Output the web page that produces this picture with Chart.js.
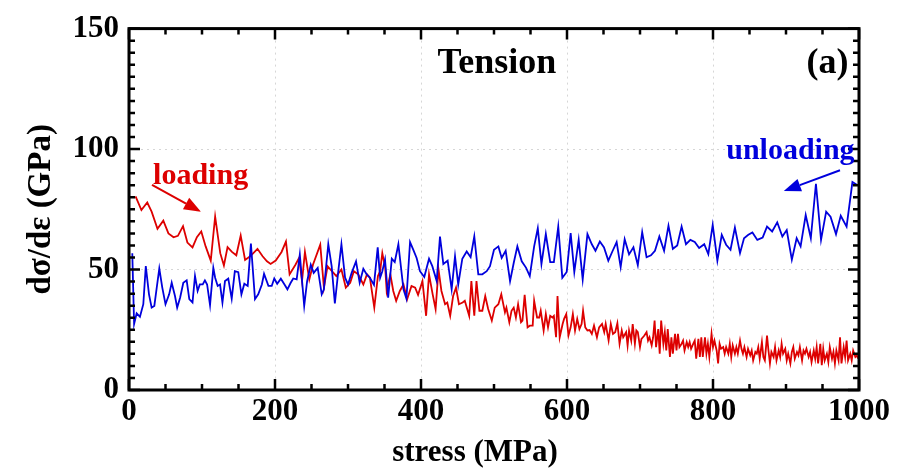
<!DOCTYPE html>
<html lang="en">
<head>
  <meta charset="UTF-8">
  <title>Tension (a)</title>
  <script src="https://cdn.jsdelivr.net/npm/chart.js"></script>
  <style>
    html, body { margin: 0; padding: 0; background: #fff; }
  </style>
</head>
<body>
  <canvas id="tensionChart" width="898" height="470"></canvas>

  <script>
    // loading curve (red)
    const loadX = [9, 17, 25, 31, 39, 47, 54, 61, 67, 74, 80, 87, 93, 99, 105, 112, 118, 125, 130, 135,
      141, 147, 153, 159, 166, 176, 183, 189, 194, 201, 209, 215, 220, 228, 233, 237, 241, 247, 252, 262,
      267, 272, 278, 284, 291, 297, 303, 308, 314, 321, 326, 330, 336, 341, 344, 347, 351, 353, 358, 362,
      366, 371, 376, 381, 387, 392, 396, 402, 407, 411, 416, 420, 424, 428, 433, 436, 440, 444, 448, 452,
      457, 460, 466, 469, 473, 476, 480, 484, 488, 492, 497, 501, 506, 510, 515, 517, 521, 524, 527, 530,
      533, 537, 539, 542, 546, 549, 553, 555, 559, 562, 564, 568, 571, 574, 577, 580, 582, 585, 587, 590,
      594, 596, 599, 602, 605, 608, 611, 614, 617, 620, 622, 625, 628, 631, 634, 637, 641, 644, 648, 651,
      653, 657, 660, 663, 666, 669, 672, 675, 677, 681, 683, 685, 688, 690, 693, 695, 697, 700, 702, 704,
      706, 709, 711, 713, 716, 718, 720, 722, 725, 727, 729, 732, 734, 736, 738, 741, 743, 745, 748, 750,
      752, 754, 757, 759, 761, 764, 766, 768, 770, 773, 775, 777, 780, 782, 784, 786, 789, 791, 793, 795,
      798, 800, 802, 805, 807, 809, 811, 814, 816, 818, 821, 823, 825, 827, 830, 832, 834, 837, 839, 841,
      843, 846, 848, 851, 853, 855, 858, 860, 862, 864, 867, 869, 871, 874, 876, 878, 880, 883, 885, 887,
      890, 892, 894, 896, 899, 901, 903, 906, 908, 910, 912, 915, 917, 919, 922, 924, 926, 928, 931, 933,
      935, 938, 940, 942, 944, 947, 949, 951, 953, 956, 958, 960, 963, 965, 967, 969, 972, 974, 976, 979,
      981, 983, 985, 988, 990, 992, 995, 997, 999];
    const loadY = [80.4, 74.7, 77.8, 74, 66.9, 70.3, 65, 63.4, 64, 68, 61.2, 59.2, 63.4, 65.8, 59.6, 53.7, 72, 56.8, 51.7, 59.3,
      57.3, 55.9, 64.1, 54, 55.5, 58.6, 55.5, 53.4, 52.3, 53.7, 57.3, 61.6, 48, 52, 54.8, 45.2, 57.3, 45.9, 52, 60.3,
      42.5, 51.4, 49.3, 47.3, 50, 42.5, 44.5, 49.3, 48, 43.8, 48, 46.6, 34.2, 47.3, 49.3, 56.8, 50.7, 41.1, 48, 41.1,
      37, 41.1, 43.8, 37.7, 43.2, 42.5, 39.5, 45.2, 30.8, 48, 39.7, 33.6, 50, 41.1, 35.6, 36.3, 30.8, 39, 42.5, 35.6,
      36.3, 37, 30.8, 45.2, 30.8, 45.2, 32.9, 32.9, 39, 33.6, 28.8, 34.2, 35.6, 39.7, 32.2, 34.2, 28.1, 32.9, 34.2, 30.1,
      35.6, 28.1, 28.8, 39.5, 26, 26.7, 26.7, 37, 30.1, 30.1, 32.9, 24.7, 31.5, 26, 30.8, 30.1, 30.8, 21.9, 39, 21.9,
      27.4, 29.5, 31.5, 22.6, 26, 31.5, 24.7, 29.5, 25.3, 27.4, 32.9, 26, 24.7, 24.9, 23.3, 26.7, 21.9, 26, 27.4, 24,
      27.4, 20.6, 27.4, 23.3, 24, 27.7, 19.2, 24.7, 21.9, 24, 18.5, 24.7, 20.5, 27.4, 19.2, 24.7, 24, 17.8, 21.2, 21.9,
      22.6, 24, 20.5, 21.9, 18.5, 21.9, 28.8, 17.8, 25.3, 15.1, 28.8, 19.2, 24, 16.4, 25.3, 13.7, 21.9, 15.1, 23.3, 16.4,
      23.3, 17.8, 19.2, 20.5, 16.4, 19.9, 17.8, 19.9, 17.1, 19.2, 20.5, 13, 21.2, 13.7, 21.9, 13.7, 21.9, 15.1, 19.2, 13.7,
      23.3, 17.8, 20.5, 16.4, 11, 19.2, 17.1, 17.8, 15.1, 17.8, 15.1, 19.2, 13.7, 18.5, 15.1, 17.8, 15.1, 20.5, 17.1, 15.1,
      17.8, 13.7, 17.1, 14.4, 16.4, 12.3, 15.8, 15.1, 17.8, 13, 19.9, 13.7, 12.3, 22.6, 16.4, 11, 15.8, 13.7, 17.8, 12.3,
      16.4, 13.7, 19.2, 15.1, 17.1, 12.3, 15.1, 11, 15.8, 17.8, 13, 15.8, 14.4, 17.8, 12.3, 16.4, 15.1, 17.1, 13.7, 15.8,
      11.6, 16.4, 13, 17.8, 11, 19.2, 10.3, 17.1, 12.3, 15.1, 11.6, 17.8, 13, 15.8, 11, 16.4, 12.3, 21.9, 11, 17.8,
      13.7, 20.5, 12.3, 15.1, 12.3, 16.4, 13.7, 14.4, 13];

    // unloading curve (blue)
    const unloadX = [4.5, 7, 10.5, 15, 19.6, 23, 27.4, 31, 34.7, 38, 41.5, 45.6, 50, 55, 58.5, 63, 66, 70, 74.4, 79,
      82.6, 87, 90.4, 94, 97, 101, 104, 107, 111, 115.5, 118, 121.5, 124.7, 128, 131.5, 136, 140.7, 145, 149.7, 154,
      158, 162.6, 167, 172.6, 177, 182, 185, 191, 195.5, 199, 203, 208, 213, 217, 221.5, 225, 229.7, 234, 240, 244,
      249, 253, 258.5, 264, 267, 273, 277.6, 282, 286.7, 291, 296, 300, 305, 311, 316, 321, 325.6, 330, 335.6, 340.7,
      344, 347, 350.7, 355, 360, 364, 369, 376, 380, 385, 389.5, 394, 398.6, 404.5, 411, 415.5, 421.5, 426, 430.6, 436.5,
      442, 446.6, 451, 456.6, 462.6, 468, 473, 478.5, 484, 490, 494.5, 500, 506, 510.5, 516, 522, 527, 532, 538, 544,
      549, 555, 560, 565, 571, 577, 582, 588, 593.6, 599.6, 605, 610, 616, 621.5, 628, 634, 639, 645, 650.7, 656.6,
      662.6, 668, 673.5, 679, 685, 691, 697, 703, 709, 715, 720.5, 726.5, 733, 739, 745, 751, 757, 763, 769, 775,
      781, 788, 793.6, 799.6, 806, 812, 818, 824, 830, 837, 842.5, 848.4, 854, 860.7, 868, 874, 881, 888, 895, 901,
      908, 914.6, 920, 927, 934, 941, 948, 955, 961, 968.5, 975, 983, 991, 997];
    const unloadY = [56.8, 27.4, 31.8, 30.4, 35.6, 51.4, 39.7, 34.2, 34.9, 42.5, 50.4, 42.5, 35.6, 39.7, 44.5, 39, 34.2, 38.3, 44.5, 45.5,
      37.7, 36.3, 47.3, 41.1, 43.8, 43.8, 45.5, 43.8, 35.2, 50.7, 46.6, 43.2, 43.8, 36.3, 45.2, 46.2, 37.9, 49.3, 48.9, 39.7,
      44.1, 43.2, 60.8, 37.7, 39.7, 43.8, 48.2, 43.2, 43.2, 46.3, 44.1, 46.2, 43.8, 41.8, 44.5, 46.3, 45.9, 56.2, 34.9, 45.2,
      52, 48.6, 50.7, 39.7, 41.8, 60.5, 51.4, 35.9, 49.3, 60.5, 46.6, 43.8, 48.6, 53.4, 44.5, 50.3, 48, 46.6, 43.6, 59.2,
      46.6, 49.3, 54.1, 38.3, 54.5, 53.1, 60.5, 41.8, 37.9, 61.4, 58.2, 54.8, 49.3, 46.9, 54.5, 51.4, 45.2, 63.7, 52.3, 53.7,
      41.8, 55.5, 43.8, 54.5, 57.5, 55.1, 63.7, 48, 48, 49.3, 51.4, 58.2, 59.6, 54.8, 57.8, 45.2, 52.7, 59.6, 53.4, 50.7,
      47.3, 59.6, 67.1, 52.3, 64.7, 53.1, 53.1, 67.8, 46.6, 49, 65.1, 49, 62.3, 45.9, 64.7, 60.5, 57.8, 61.6, 59.2, 53.7,
      57.8, 61.4, 51, 62.6, 56.3, 59.2, 51.8, 65.5, 55.1, 55.9, 57.8, 63.7, 57.8, 68.2, 58.6, 60, 67.8, 60.5, 62.3, 61.4,
      58.9, 60.5, 56.4, 68.5, 53.7, 64.4, 60.3, 58.2, 67.4, 56.8, 63, 64.4, 65.4, 62.3, 63.3, 67.8, 65.8, 69.6, 63.7, 66.4,
      54.1, 63, 59.6, 72.6, 63, 85.6, 62.3, 74, 71.9, 64.7, 72.3, 67.8, 86.3, 85.2];

    // axis ticks
    const xTicks = [0, 200, 400, 600, 800, 1000];
    const yTicks = [0, 50, 100, 150];

    const toPoints = (xs, ys) => xs.map((x, i) => ({ x: x, y: ys[i] }));

    const FONT = "'Liberation Serif', 'Times New Roman', serif";

    // inward ticks on all four sides, frame, x title and annotations
    const framePlugin = {
      id: 'frame',
      afterDraw(chart) {
        const ctx = chart.ctx;
        const a = chart.chartArea;
        const xs = chart.scales.x, ys = chart.scales.y;
        ctx.save();
        ctx.strokeStyle = '#000';
        ctx.lineWidth = 2.5;
        ctx.beginPath();
        for (let v = 0; v <= 1000; v += 50) {
          const px = xs.getPixelForValue(v);
          const len = xTicks.includes(v) ? 11 : 6;
          ctx.moveTo(px, a.bottom); ctx.lineTo(px, a.bottom - len);
          ctx.moveTo(px, a.top); ctx.lineTo(px, a.top + len);
        }
        for (let v = 0; v <= 150; v += 5) {
          const py = ys.getPixelForValue(v);
          const len = yTicks.includes(v) ? 11 : 6;
          ctx.moveTo(a.left, py); ctx.lineTo(a.left + len, py);
          ctx.moveTo(a.right, py); ctx.lineTo(a.right - len, py);
        }
        ctx.stroke();
        ctx.lineWidth = 3;
        ctx.strokeRect(a.left, a.top, a.right - a.left, a.bottom - a.top);

        // x axis title (sits a bit left of centre in the original)
        ctx.fillStyle = '#000';
        ctx.font = 'bold 31px ' + FONT;
        ctx.textAlign = 'center';
        ctx.textBaseline = 'alphabetic';
        ctx.fillText('stress (MPa)', 475, 461);

        ctx.font = 'bold 36px ' + FONT;
        ctx.fillText('Tension', xs.getPixelForValue(504), ys.getPixelForValue(131.5));
        ctx.fillText('(a)', xs.getPixelForValue(957), ys.getPixelForValue(131.5));

        ctx.font = 'bold 30px ' + FONT;
        ctx.fillStyle = '#dd0000';
        ctx.textAlign = 'left';
        ctx.fillText('loading', xs.getPixelForValue(33), ys.getPixelForValue(85.5));
        ctx.fillStyle = '#0000dd';
        ctx.textAlign = 'right';
        ctx.fillText('unloading', xs.getPixelForValue(994), ys.getPixelForValue(95.8));

        const arrow = (x1, y1, x2, y2, color) => {
          const p1 = [xs.getPixelForValue(x1), ys.getPixelForValue(y1)];
          const p2 = [xs.getPixelForValue(x2), ys.getPixelForValue(y2)];
          const ang = Math.atan2(p2[1] - p1[1], p2[0] - p1[0]);
          const hl = 17, hw = 6.5;
          const bx = p2[0] - hl * Math.cos(ang), by = p2[1] - hl * Math.sin(ang);
          ctx.strokeStyle = color; ctx.fillStyle = color; ctx.lineWidth = 2;
          ctx.beginPath(); ctx.moveTo(p1[0], p1[1]); ctx.lineTo(bx, by); ctx.stroke();
          ctx.beginPath();
          ctx.moveTo(p2[0], p2[1]);
          ctx.lineTo(bx + hw * Math.sin(ang), by - hw * Math.cos(ang));
          ctx.lineTo(bx - hw * Math.sin(ang), by + hw * Math.cos(ang));
          ctx.closePath(); ctx.fill();
        };
        arrow(31.5, 85.1, 98.6, 74, '#dd0000');
        arrow(974, 91.2, 897, 82.6, '#0000dd');
        ctx.restore();
      }
    };

    new Chart(document.getElementById('tensionChart').getContext('2d'), {
      type: 'line',
      data: {
        datasets: [
          {
            label: 'unloading',
            data: toPoints(unloadX, unloadY),
            borderColor: '#0000dd',
            borderWidth: 1.8,
            pointRadius: 0,
            tension: 0
          },
          {
            label: 'loading',
            data: toPoints(loadX, loadY),
            borderColor: '#dd0000',
            borderWidth: 1.8,
            pointRadius: 0,
            tension: 0
          }
        ]
      },
      options: {
        responsive: false,
        animation: false,
        devicePixelRatio: 1,
        layout: { padding: { top: 25, right: 39, bottom: 0, left: 0 } },
        plugins: { legend: { display: false }, tooltip: { enabled: false } },
        scales: {
          x: {
            type: 'linear',
            min: 0, max: 1000,
            afterBuildTicks: s => { s.ticks = xTicks.map(v => ({ value: v })); },
            afterFit: s => { s.height = 80; },
            grid: { color: '#d6d6d6', lineWidth: 1, drawTicks: false },
            border: { display: false, dash: [2, 4] },
            ticks: { color: '#000', padding: 3, maxRotation: 0, callback: v => String(v),
              font: { family: FONT, weight: 'bold', size: 31 } }
          },
          y: {
            type: 'linear',
            min: 0, max: 150,
            afterBuildTicks: s => { s.ticks = yTicks.map(v => ({ value: v })); },
            afterFit: s => { s.width = 129; },
            grid: { color: '#d6d6d6', lineWidth: 1, drawTicks: false },
            border: { display: false, dash: [2, 4] },
            ticks: { color: '#000', padding: 10, callback: v => String(v),
              font: { family: FONT, weight: 'bold', size: 31 } },
            title: { display: true, text: 'dσ/dε (GPa)', color: '#000', padding: { top: 22, bottom: 0 },
              font: { family: FONT, weight: 'bold', size: 33 } }
          }
        }
      },
      plugins: [framePlugin]
    });
  </script>
</body>
</html>
